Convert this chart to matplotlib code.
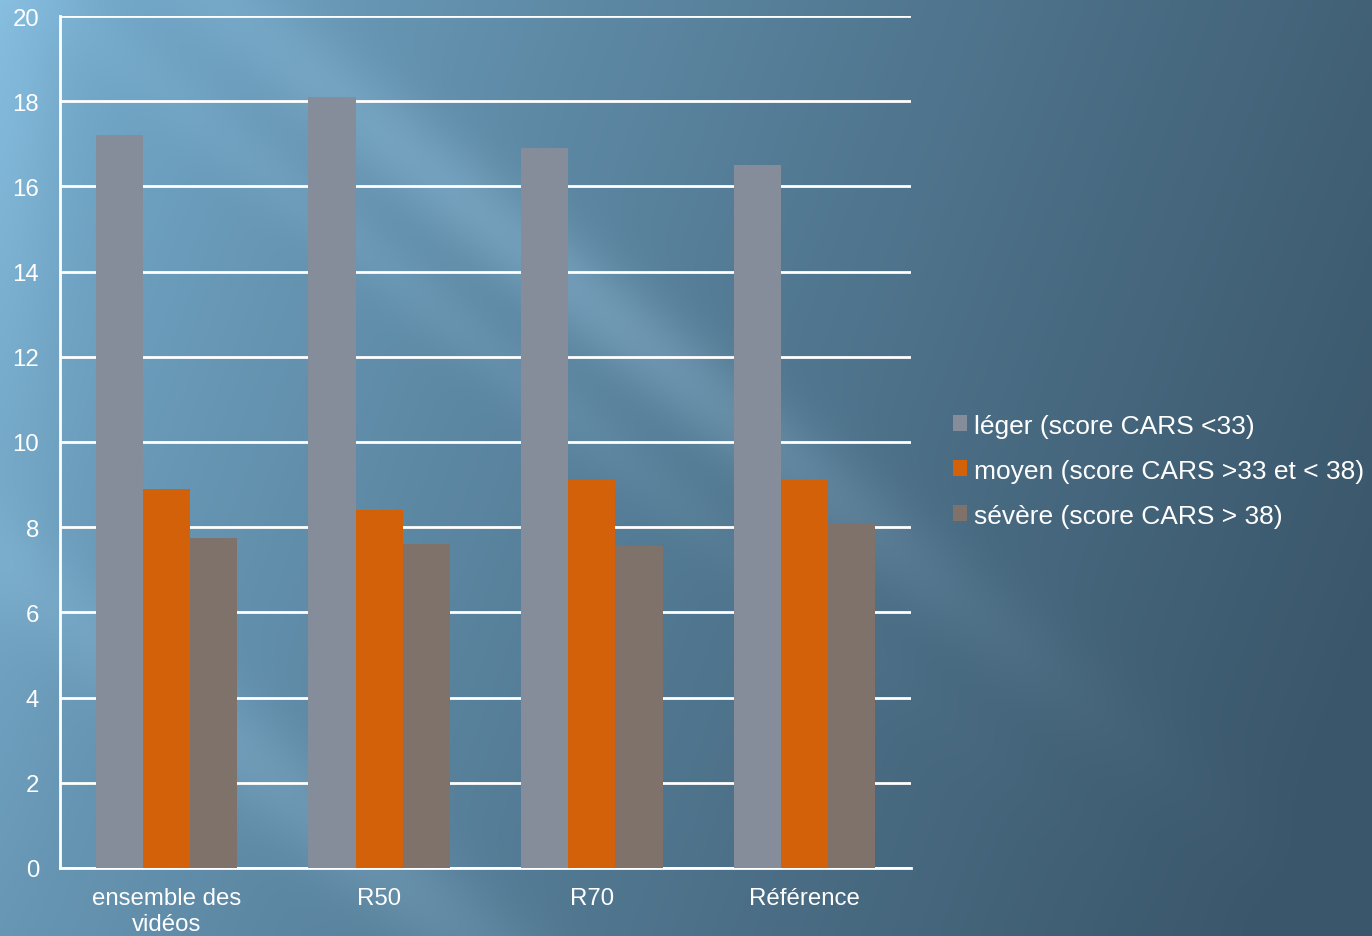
import matplotlib.pyplot as plt
import numpy as np

plt.rcParams['font.family'] = ['Liberation Sans', 'DejaVu Sans']

categories = ['ensemble des\nvidéos', 'R50', 'R70', 'Référence']
series_names = ['léger (score CARS <33)',
                'moyen (score CARS >33 et < 38)',
                'sévère (score CARS > 38)']
leger = [17.2, 18.1, 16.9, 16.5]
moyen = [8.9, 8.4, 9.1, 9.1]
severe = [7.75, 7.6, 7.55, 8.1]
colors = ['#858c9a', '#d2610a', '#7f726b']

fig = plt.figure(figsize=(13.72, 9.37), dpi=100)

# fond dégradé bleu avec des rayons clairs en diagonale
bg = fig.add_axes([0, 0, 1, 1], zorder=-10)
h, w = 937, 1372
yy, xx = np.mgrid[0:h, 0:w].astype(float)
t = np.clip(0.85 * (xx / w) + 0.22 * (yy / h), 0, 1) ** 0.8
light = np.array([122, 178, 212]) / 255
dark = np.array([58, 86, 106]) / 255
img = light * (1 - t[..., None]) + dark * t[..., None]
d = yy - 0.8 * xx
rays = [(-170, 55, 0.09, 600), (560, 60, 0.06, 300), (-40, 40, 0.035, 450)]
for c, wd, a, xc in rays:
    band = np.exp(-((d - c) / wd) ** 2) * np.exp(-((xx - xc) / 380) ** 2)
    img = img + a * band[..., None]
# bord gauche un peu plus clair
img = img + 0.05 * np.exp(-(xx / 60) ** 2)[..., None] * np.clip(1 - yy / h, 0, 1)[..., None]
img = np.clip(img, 0, 1)
bg.imshow(img, aspect='auto', extent=[0, 1, 0, 1], origin='upper')
bg.axis('off')

ax = fig.add_axes([60 / w, 1 - 869 / h, (911 - 60) / w, (869 - 17) / h])
ax.patch.set_alpha(0)

x = np.arange(len(categories))
bw = 0.222
for i, (vals, name) in enumerate(zip([leger, moyen, severe], series_names)):
    ax.bar(x + (i - 1) * bw, vals, bw, color=colors[i], label=name, zorder=3)

ax.set_xlim(-0.5, 3.5)
ax.set_ylim(0, 20)
ax.set_yticks(range(0, 21, 2))
ax.set_xticks(x)
ax.set_xticklabels(categories)
ax.yaxis.grid(True, color='white', linewidth=2, zorder=1)
ax.set_axisbelow(True)
for s in ['top', 'right']:
    ax.spines[s].set_visible(False)
for s in ['left', 'bottom']:
    ax.spines[s].set_color('white')
    ax.spines[s].set_linewidth(2)
ax.tick_params(axis='both', length=0, colors='white', labelsize=17.3)
ax.tick_params(axis='y', pad=15)
ax.tick_params(axis='x', pad=14)
for lbl in ax.get_xticklabels():
    lbl.set_linespacing(1.2)

leg = ax.legend(loc='upper left', bbox_to_anchor=(942 / w, 1 - 404 / h),
                bbox_transform=fig.transFigure, frameon=False, fontsize=19,
                handlelength=0.55, handleheight=0.55, handletextpad=0.25,
                labelspacing=0.8, borderaxespad=0)
for txt in leg.get_texts():
    txt.set_color('white')

fig.savefig('out.png', dpi=100)
